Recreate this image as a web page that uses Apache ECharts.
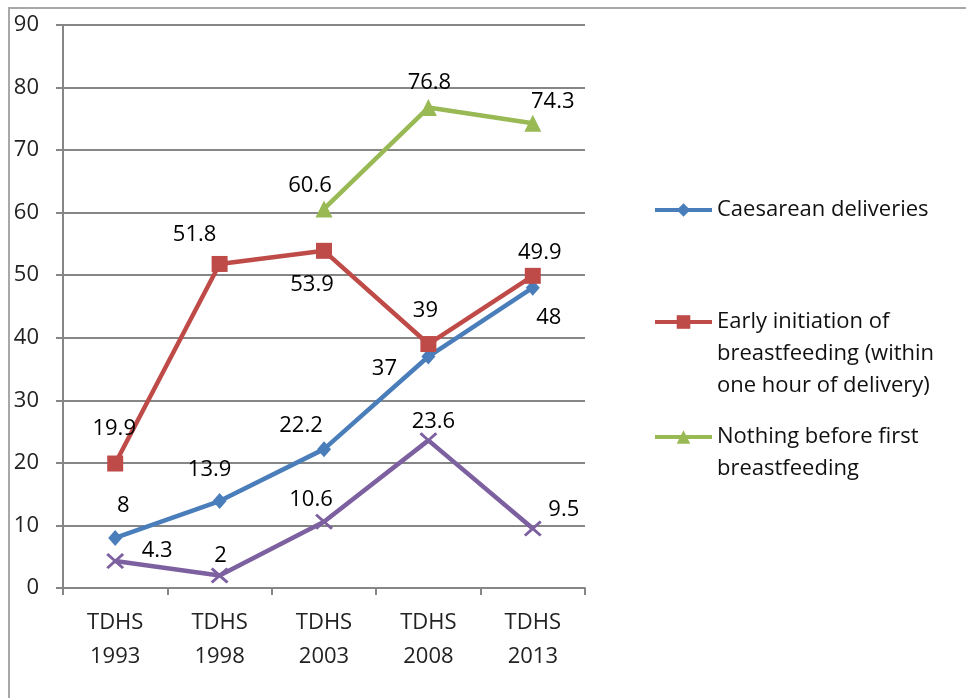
<!DOCTYPE html>
<html>
<head>
<meta charset="utf-8">
<script src="https://cdn.jsdelivr.net/npm/echarts@6/dist/echarts.min.js"></script>
<style>
  html, body { margin: 0; padding: 0; background: #fff; }
  #chart { width: 966px; height: 698px; }
</style>
</head>
<body>
<div id="chart"></div>
<script>
// Survey rounds on the category axis
var categories = ['TDHS\n1993', 'TDHS\n1998', 'TDHS\n2003', 'TDHS\n2008', 'TDHS\n2013'];

// Percentages per survey round
var caesarean = [8, 13.9, 22.2, 37, 48];
var earlyInitiation = [19.9, 51.8, 53.9, 39, 49.9];
var nothingBefore = [null, null, 60.6, 76.8, 74.3];
var fourthSeries = [4.3, 2, 10.6, 23.6, 9.5];

// Y axis range
var yMin = 0, yMax = 90, yStep = 10;

// Label nudges (pixels from each marker centre)
var offsBlue = [[8, -32], [-10, -31], [-23, -23], [-44, 12], [16, 30]];
var offsRed = [[-1, -35], [-25, -29], [-12, 34], [-3, -33], [7, -23]];
var offsGreen = [[0, 0], [0, 0], [-14, -23], [1, -25], [20, -21]];
var offsPurple = [[42, -10], [1, -20], [-13, -22], [5, -19], [31, -19]];

var FONT = '"Open Sans", sans-serif';
var X_MARK = 'path://M0,1.2 L1.2,0 L5,3.8 L8.8,0 L10,1.2 L6.2,5 L10,8.8 L8.8,10 L5,6.2 L1.2,10 L0,8.8 L3.8,5 Z';

function withLabels(values, offsets) {
  return values.map(function (v, i) {
    if (v === null) return null;
    return { value: v, label: { offset: offsets[i] } };
  });
}

function lineSeries(name, values, offsets, color, symbol, size) {
  return {
    name: name,
    type: 'line',
    data: withLabels(values, offsets),
    symbol: symbol,
    symbolSize: size,
    showAllSymbol: true,
    lineStyle: { color: color, width: 4.5 },
    itemStyle: { color: color },
    label: {
      show: true,
      position: 'inside',
      color: '#000',
      fontFamily: FONT,
      fontSize: 22
    },
    emphasis: { disabled: true },
    z: 3
  };
}

var nameBlue = 'Caesarean deliveries';
var nameRed = 'Early initiation of\nbreastfeeding (within\none hour of delivery)';
var nameGreen = 'Nothing before first\nbreastfeeding';

// Each legend entry hangs its text below the icon: blank leading lines
// keep the first text line level with the icon.
function legendFor(name, lines, top) {
  var lead = '';
  for (var i = 1; i < lines; i++) lead += '\n';
  return {
    show: true,
    orient: 'vertical',
    left: 653,
    top: top,
    padding: 0,
    itemWidth: 57,
    itemHeight: 17,
    itemGap: 0,
    selectedMode: false,
    lineStyle: { width: 4 },
    formatter: function (n) { return lead + n; },
    textStyle: {
      fontFamily: FONT,
      fontSize: 22,
      lineHeight: 32,
      color: '#111'
    },
    data: [name]
  };
}

var chart = echarts.init(document.getElementById('chart'), null, { renderer: 'canvas' });
chart.setOption({
  animation: false,
  backgroundColor: '#fff',
  graphic: [{
    type: 'rect',
    shape: { x: 9, y: 8, width: 1200, height: 1200 },
    style: { fill: 'none', stroke: '#a8a8a8', lineWidth: 2 },
    silent: true,
    z: -10
  }],
  grid: { left: 63, right: 381, top: 25, bottom: 110, containLabel: false },
  legend: [
    legendFor(nameBlue, 1, 194),
    legendFor(nameRed, 3, 242),
    legendFor(nameGreen, 2, 389)
  ],
  xAxis: {
    type: 'category',
    data: categories,
    boundaryGap: true,
    axisLine: { show: true, lineStyle: { color: '#868686', width: 2 } },
    axisTick: { show: true, alignWithLabel: false, length: 7, lineStyle: { color: '#868686', width: 2 } },
    axisLabel: {
      margin: 18,
      fontFamily: FONT,
      fontSize: 22,
      lineHeight: 34,
      color: '#222'
    },
    splitLine: { show: false }
  },
  yAxis: {
    type: 'value',
    min: yMin,
    max: yMax,
    interval: yStep,
    axisLine: { show: true, lineStyle: { color: '#868686', width: 2 } },
    axisTick: { show: true, length: 7, lineStyle: { color: '#868686', width: 2 } },
    axisLabel: {
      margin: 24,
      fontFamily: FONT,
      fontSize: 22,
      color: '#222'
    },
    splitLine: { show: true, lineStyle: { color: '#868686', width: 2 } }
  },
  series: [
    lineSeries(nameBlue, caesarean, offsBlue, '#4a7ebb', 'diamond', [14, 16]),
    lineSeries(nameRed, earlyInitiation, offsRed, '#be4b48', 'rect', 16),
    lineSeries(nameGreen, nothingBefore, offsGreen, '#98b954', 'triangle', 17),
    lineSeries('series4', fourthSeries, offsPurple, '#7d60a0', X_MARK, [18, 16])
  ]
});
</script>
</body>
</html>
